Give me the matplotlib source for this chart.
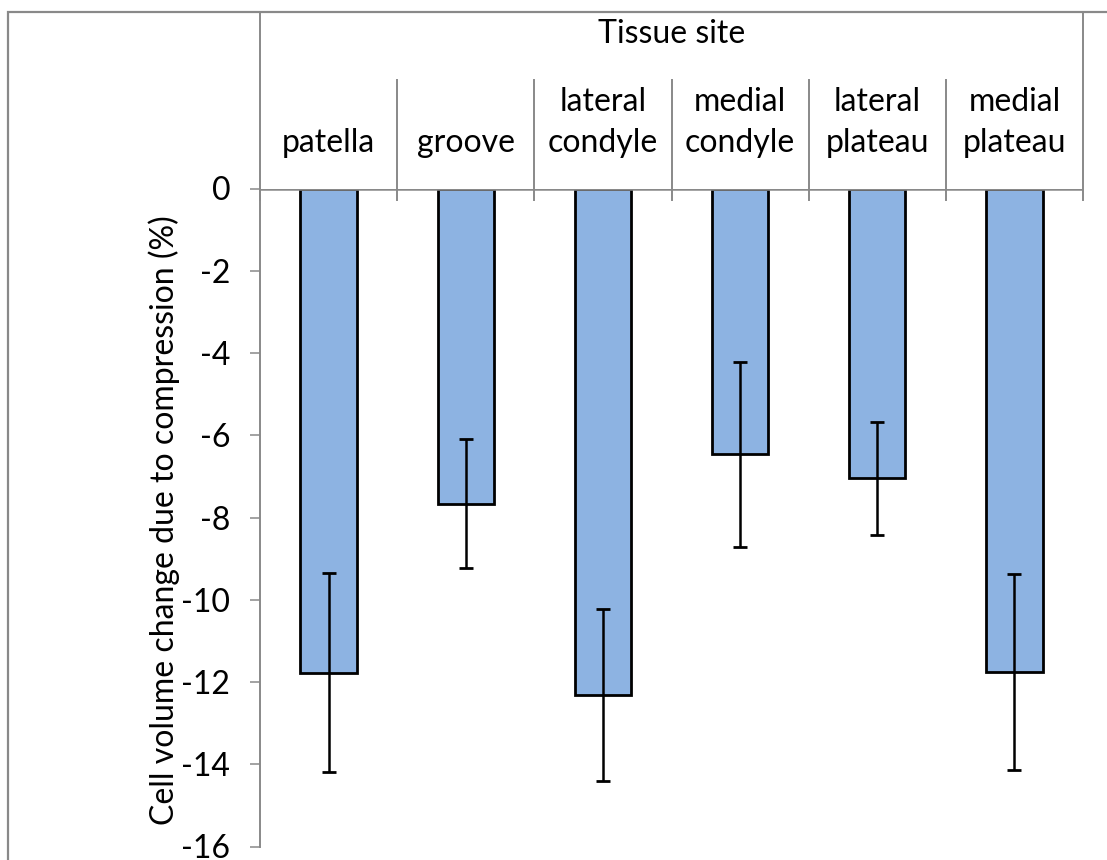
import matplotlib
matplotlib.use("Agg")
import matplotlib.pyplot as plt
from matplotlib.patches import Rectangle
import numpy as np

plt.rcParams['font.family'] = ['Lato', 'DejaVu Sans']

sites = ["patella", "groove", "lateral\ncondyle", "medial\ncondyle",
         "lateral\nplateau", "medial\nplateau"]
volume_change = [-11.77, -7.66, -12.31, -6.46, -7.05, -11.76]
volume_err = [2.42, 1.57, 2.09, 2.25, 1.37, 2.39]
y_ticks = [0, -2, -4, -6, -8, -10, -12, -14, -16]

W, H = 1107, 860
grey = "#898989"
bar_blue = "#8DB3E2"
fs = 23

fig = plt.figure(figsize=(W / 100, H / 100), dpi=100)

# axes box in pixel terms: x 260..1083, y(0)=188.5 .. y(-16)=846.5
ax_l, ax_r, ax_t, ax_b = 260, 1083, 188.5, 846.5
ax = fig.add_axes([ax_l / W, 1 - ax_b / H, (ax_r - ax_l) / W, (ax_b - ax_t) / H])

def ypix(p):
    # pixel row -> axes fraction
    return 1 + (ax_t - p) / (ax_b - ax_t)

x = np.arange(len(sites))
ax.bar(x, volume_change, width=0.41, color=bar_blue, edgecolor="black",
       linewidth=2.0, zorder=2)
ax.errorbar(x, volume_change, yerr=volume_err, fmt="none", ecolor="black",
            elinewidth=1.8, capsize=4.8, capthick=2.0, zorder=3)

ax.set_xlim(-0.5, len(sites) - 0.5)
ax.set_ylim(-16, 0)
ax.set_yticks(y_ticks)
ax.set_yticklabels([str(t) for t in y_ticks])
ax.set_xticks([])
ax.tick_params(axis="y", direction="out", length=7.5, width=1.1,
               color=grey, pad=14, labelsize=fs)

for s in ["right", "bottom", "top"]:
    ax.spines[s].set_visible(False)
ax.spines["left"].set_color(grey)
ax.spines["left"].set_linewidth(1.4)

# category axis along zero
ax.axhline(0, color=grey, linewidth=1.8, zorder=4)

ax.set_ylabel("Cell volume change due to compression (%)", fontsize=fs)
ax.yaxis.set_label_coords(-0.097, 0.496)

# category dividers and outer group box
tr = ax.get_xaxis_transform()
bounds = np.arange(len(sites) + 1) - 0.5
for i, b in enumerate(bounds):
    top = ypix(12) if i in (0, len(sites)) else ypix(80)
    ax.plot([b, b], [ypix(200), top], color=grey, linewidth=1.4,
            transform=tr, clip_on=False, zorder=4)

# category labels, bottom line sits on a common baseline
for xi, name in zip(x, sites):
    lines = name.split("\n")
    ax.text(xi, ypix(152), lines[-1], transform=tr, ha="center",
            va="baseline", fontsize=fs)
    if len(lines) > 1:
        ax.text(xi, ypix(111.5), lines[0], transform=tr, ha="center",
                va="baseline", fontsize=fs)

ax.text(0.5, ypix(43.3), "Tissue site", transform=ax.transAxes,
        ha="center", va="baseline", fontsize=fs)

# chart frame
fig.patches.append(Rectangle((8 / W, -0.1), 1.2, 1.1 - 12 / H,
                             transform=fig.transFigure, fill=False,
                             edgecolor=grey, linewidth=1.6))

fig.savefig("out.png", dpi=100)
